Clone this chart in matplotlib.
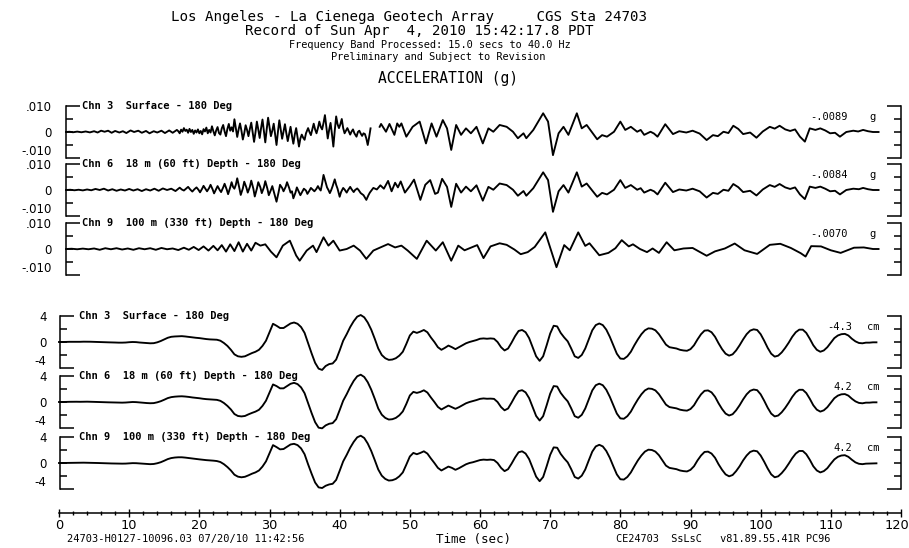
import numpy as np
import matplotlib
matplotlib.use("Agg")
import matplotlib.pyplot as plt
import matplotlib.transforms as mtrans
from matplotlib.ticker import FixedLocator, FixedFormatter, MultipleLocator

# ---------------------------------------------------------------- data --
title_lines = [
    "Los Angeles - La Cienega Geotech Array     CGS Sta 24703",
    "Record of Sun Apr  4, 2010 15:42:17.8 PDT",
    "Frequency Band Processed: 15.0 secs to 40.0 Hz",
    "Preliminary and Subject to Revision",
    "ACCELERATION (g)",
]
footer_left = "24703-H0127-10096.03 07/20/10 11:42:56"
footer_right = "CE24703  SsLsC   v81.89.55.41R PC96"
time_label = "Time (sec)"
time_ticks = [0, 10, 20, 30, 40, 50, 60, 70, 80, 90, 100, 110, 120]

channel_names = [
    "Chn 3  Surface - 180 Deg",
    "Chn 6  18 m (60 ft) Depth - 180 Deg",
    "Chn 9  100 m (330 ft) Depth - 180 Deg",
]

# acceleration, (time s, milli-g) turning points
acc_ch3 = [
    (1.0, 0.0), (1.5, 0.1), (2.0, -0.1), (2.6, 0.15), (3.2, -0.1), (3.8, 0.2), (4.4, -0.15),
    (5.0, 0.3), (5.5, -0.2), (6.0, 0.5), (6.5, 0.1), (7.0, 0.5), (7.5, -0.3), (8.0, 0.4),
    (8.6, -0.2), (9.1, 0.3), (9.6, -0.4), (10.2, 0.6), (10.7, 0.0), (11.3, 0.5), (11.8, -0.3),
    (12.4, 0.4), (12.9, -0.5), (13.5, 0.3), (14.0, -0.2), (14.6, 0.5), (15.1, -0.4), (15.7, 0.6),
    (16.2, -0.3), (16.8, 0.8),
    (17.0, 0.3), (17.2, -0.5), (17.4, 0.9), (17.6, 0.1), (17.8, 1.5), (18.0, 0.4), (18.2, 0.9),
    (18.4, -0.3), (18.6, 1.2), (18.8, 0.0), (19.0, 0.8), (19.2, -0.7), (19.4, 0.6), (19.6, -0.2),
    (19.8, 1.0), (20.0, -0.5), (20.2, 0.4), (20.4, -0.9), (20.6, 1.1), (20.8, 0.2), (21.0, 1.7),
    (21.2, -0.5), (21.4, 0.8), (21.6, -0.2), (21.8, 2.2), (22.0, 0.3), (22.2, -1.3), (22.4, 0.6),
    (22.6, 1.9), (22.8, -0.4), (23.0, -1.0), (23.2, 1.4), (23.4, 2.7), (23.6, 0.2), (23.8, -1.6),
    (24.0, 1.2), (24.2, 3.1), (24.4, 0.5), (24.6, 1.8), (24.8, 0.2), (25.0, 4.9), (25.2, 1.5),
    (25.4, -1.9), (25.6, 1.0), (25.8, 3.3), (26.0, 0.5), (26.2, -2.9), (26.4, -0.5), (26.6, 2.6),
    (26.8, 0.8), (27.0, -1.6), (27.2, 1.2), (27.4, 3.6), (27.6, 0.0), (27.8, -3.8), (28.0, -0.2),
    (28.2, 4.0), (28.4, 1.0), (28.6, -2.3), (28.8, 1.5), (29.0, 4.8), (29.2, 0.5), (29.4, -4.0),
    (29.6, 1.0), (29.8, 5.5), (30.0, 2.0), (30.2, -1.6), (30.4, 0.5), (30.6, 3.2), (30.8, -1.0),
    (31.0, -5.0), (31.2, 0.0), (31.4, 4.5), (31.6, 1.0), (31.8, -2.6), (32.0, 0.2), (32.2, 3.0),
    (32.4, -0.5), (32.6, -3.5), (32.8, -0.8), (33.0, 2.0), (33.2, -1.5), (33.4, -4.5), (33.6, -1.0),
    (33.8, 1.5), (34.0, -2.0), (34.2, -5.6), (34.4, -2.5), (34.6, -1.0), (34.8, -2.2), (35.0, -3.0),
    (35.2, -0.5), (35.5, 1.5), (35.7, 0.0), (35.9, -1.2), (36.1, 1.0), (36.3, 3.2), (36.5, 1.0),
    (36.7, -0.5), (36.9, 1.5), (37.1, 4.0), (37.3, 2.0), (37.5, 1.0), (37.7, 3.5), (37.9, 6.5),
    (38.1, 2.0), (38.3, -2.5), (38.5, 0.8), (38.7, 3.5), (38.9, -0.8), (39.1, -5.6), (39.3, 0.5),
    (39.5, 6.0), (39.7, 3.0), (39.9, 1.5), (40.1, 3.0), (40.3, 5.0), (40.5, 1.5), (40.7, -0.5),
    (40.9, 0.5), (41.1, 1.5), (41.3, 0.2), (41.5, -1.0), (41.7, 0.2), (41.9, 1.0), (42.1, -0.5),
    (42.4, -1.8), (42.6, 0.0), (42.8, 0.5), (43.0, -0.6), (43.2, -1.5), (43.4, -0.5), (43.6, -0.8),
    (43.8, -2.5), (44.0, -5.0), (44.2, -2.0), (44.4, 1.4), (45.0, np.nan),
    (45.7, 2.0), (45.9, 3.1), (46.6, 0.1), (47.1, 3.1), (47.8, -1.1), (48.2, 3.3), (48.5, 2.0),
    (48.8, 3.3), (49.5, -1.8), (50.4, 2.0), (51.4, 4.0), (52.3, -4.4), (53.1, 3.3), (53.8, -1.8),
    (54.7, 4.6), (55.3, 1.4), (55.9, -6.9), (56.6, 2.7), (57.3, -1.1), (58.0, 1.4), (58.7, -0.5),
    (59.5, 2.0), (60.4, -4.4), (61.2, 1.4), (61.9, 0.1), (62.8, 2.7), (63.8, 2.0), (64.7, 0.1),
    (65.4, -2.4), (66.2, -0.5), (66.6, -2.4), (67.6, 0.8), (69.0, 7.2), (69.7, 4.0), (70.4, -8.9),
    (71.2, -0.5), (71.9, 2.0), (72.6, -1.1), (73.8, 7.2), (74.5, 1.4), (75.2, 2.7), (76.7, -2.8),
    (77.4, -1.2), (78.1, -1.8), (79.1, 0.1), (80.0, 4.0), (80.7, 0.8), (81.5, 2.0), (82.4, 0.1),
    (82.9, 0.8), (83.4, -1.1), (84.3, 0.1), (84.8, -0.6), (85.3, -1.8), (86.4, 3.0), (87.5, -0.8),
    (88.4, 0.3), (89.4, -0.2), (90.3, 0.5), (91.3, -0.6), (92.3, -3.1), (93.2, -1.2), (93.9, -1.6),
    (94.7, 0.1), (95.4, -0.4), (96.1, 2.4), (96.8, 1.2), (97.5, -0.8), (98.5, -0.2), (99.4, -2.2),
    (100.3, 0.2), (101.3, 2.0), (102.0, 1.3), (102.7, 2.4), (103.5, 1.0), (104.2, 0.4), (104.9, 1.0),
    (105.6, -1.8), (106.3, -3.7), (107.0, 1.4), (107.8, 0.8), (108.5, 1.4), (109.2, 0.6), (109.9, -0.5),
    (110.6, -0.3), (111.3, -1.8), (112.2, 0.0), (113.2, 0.5), (113.9, 0.2), (114.6, 0.8), (115.3, 0.3),
    (116.0, 0.0), (116.8, 0.0),
]

acc_ch6 = [
    (1.0, 0.0), (1.6, 0.1), (2.2, -0.1), (2.8, 0.1), (3.4, -0.15), (4.0, 0.2), (4.6, -0.1),
    (5.2, 0.4), (5.8, 0.0), (6.4, 0.5), (7.0, -0.2), (7.6, 0.3), (8.2, -0.3), (8.8, 0.2),
    (9.4, -0.2), (10.0, 0.4), (10.6, -0.2), (11.2, 0.3), (11.8, -0.4), (12.4, 0.3), (13.0, -0.2),
    (13.6, 0.5), (14.2, -0.3), (14.8, 0.6), (15.4, 0.0), (16.0, 0.5), (16.6, -0.4),
    (17.2, 0.9), (17.5, 0.2), (17.8, -0.2), (18.1, 0.5), (18.4, 1.2), (18.7, 0.2), (19.0, -0.6),
    (19.3, 0.3), (19.6, 1.0), (19.9, 0.0), (20.1, -0.9), (20.4, 0.5), (20.6, 1.6), (20.9, 0.3),
    (21.1, -0.5), (21.4, 0.8), (21.6, 2.0), (21.9, 0.2), (22.1, -1.3), (22.4, 0.4), (22.6, 1.5),
    (22.9, 0.0), (23.1, -0.8), (23.4, 1.0), (23.6, 2.4), (23.9, 0.2), (24.1, -1.6), (24.4, 1.0),
    (24.6, 3.0), (24.8, 1.2), (25.0, 0.5), (25.2, 2.0), (25.4, 4.5), (25.7, 0.8), (25.9, -1.9),
    (26.2, 0.6), (26.4, 3.2), (26.7, 1.0), (26.9, -1.0), (27.2, 1.2), (27.4, 3.6), (27.7, 0.5),
    (27.9, -2.5), (28.2, 0.5), (28.4, 3.0), (28.7, 1.0), (28.9, -1.2), (29.2, 1.0), (29.4, 3.4),
    (29.7, 0.5), (29.9, -2.0), (30.2, 0.0), (30.4, 1.5), (30.7, -1.5), (31.0, -4.5), (31.3, -0.8),
    (31.5, 2.0), (31.8, 0.8), (32.0, -0.5), (32.3, 1.2), (32.5, 3.0), (32.8, 0.8), (33.0, -1.0),
    (33.2, -0.5), (33.4, -3.2), (33.7, -1.0), (33.9, 1.0), (34.2, -0.8), (34.4, -2.0), (34.7, -0.5),
    (34.9, 0.5), (35.2, -0.2), (35.4, -1.5), (35.7, -0.2), (35.9, 0.8), (36.2, 0.0), (36.4, -0.5),
    (36.7, 0.5), (36.9, 1.5), (37.1, 0.5), (37.3, -0.2), (37.5, 2.5), (37.7, 5.8), (38.0, 3.0),
    (38.2, 1.0), (38.4, 0.0), (38.6, -1.2), (38.8, 0.0), (39.0, 1.5), (39.3, 4.1), (39.5, 2.0),
    (39.7, 0.5), (40.0, -2.6), (40.2, -0.8), (40.5, 0.8), (40.7, 0.2), (41.0, -1.0), (41.2, 0.0),
    (41.5, 1.2), (41.7, 0.3), (42.0, -0.8), (42.2, 0.0), (42.5, 0.6), (42.7, 0.0), (43.0, -1.2),
    (43.4, -2.0), (43.8, -3.8), (44.1, -2.0), (44.3, -1.0), (44.8, 0.8),
    (45.3, 0.2), (45.8, 1.8), (46.3, 0.5), (46.9, 3.5), (47.4, -0.5), (47.9, 2.8), (48.3, 1.0),
    (48.7, 3.3), (49.3, -1.0), (50.0, 1.5), (50.6, 4.0), (51.5, -3.8), (52.2, 2.0), (52.9, 3.8),
    (53.6, -1.5), (54.0, -1.0), (54.6, 4.3), (55.3, 1.2), (55.9, -6.5), (56.6, 2.4), (57.3, -1.0),
    (58.0, 1.3), (58.7, -0.5), (59.5, 1.8), (60.4, -4.1), (61.2, 1.2), (61.9, 0.1), (62.8, 2.5),
    (63.8, 1.9), (64.7, 0.1), (65.4, -2.2), (66.2, -0.4), (66.6, -2.2), (67.6, 0.7), (69.0, 6.8),
    (69.7, 3.8), (70.4, -8.4), (71.2, -0.5), (71.9, 1.9), (72.6, -1.0), (73.8, 6.8), (74.5, 1.3),
    (75.2, 2.5), (76.7, -2.6), (77.4, -1.1), (78.1, -1.7), (79.1, 0.1), (80.0, 3.8), (80.7, 0.8),
    (81.5, 1.9), (82.4, 0.1), (82.9, 0.7), (83.4, -1.0), (84.3, 0.1), (84.8, -0.5), (85.3, -1.7),
    (86.4, 2.8), (87.5, -0.8), (88.4, 0.2), (89.4, -0.2), (90.3, 0.5), (91.3, -0.5), (92.3, -2.9),
    (93.2, -1.1), (93.9, -1.5), (94.7, 0.1), (95.4, -0.3), (96.1, 2.3), (96.8, 1.1), (97.5, -0.8),
    (98.5, -0.3), (99.4, -2.1), (100.3, 0.2), (101.3, 1.9), (102.0, 1.2), (102.7, 2.3), (103.5, 1.0),
    (104.2, 0.4), (104.9, 1.0), (105.6, -1.7), (106.3, -3.5), (107.0, 1.3), (107.8, 0.8), (108.5, 1.3),
    (109.2, 0.5), (109.9, -0.5), (110.6, -0.3), (111.3, -1.7), (112.2, 0.0), (113.2, 0.5), (114.0, 0.3),
    (114.6, 0.8), (115.3, 0.3), (116.0, 0.0), (116.8, 0.0),
]

acc_ch9 = [
    (1.0, 0.0), (1.8, 0.1), (2.6, -0.1), (3.4, 0.15), (4.2, -0.1), (5.0, 0.2), (5.8, -0.3),
    (6.6, 0.3), (7.4, -0.1), (8.2, 0.3), (9.0, -0.2), (9.8, 0.2), (10.6, -0.3), (11.4, 0.3),
    (12.2, -0.1), (13.0, 0.3), (13.8, -0.3), (14.6, 0.4), (15.4, -0.1), (16.2, 0.2), (17.0, -0.4),
    (17.8, 0.5), (18.5, -0.3), (19.2, 0.8), (19.9, -0.4), (20.6, 1.0), (21.3, -0.6), (22.0, 1.2),
    (22.6, -0.5), (23.2, 1.5), (23.8, -1.0), (24.4, 1.8), (25.0, -0.8), (25.6, 2.6), (26.2, -1.0),
    (26.8, 2.0), (27.4, -0.6), (28.0, 2.4), (28.7, 1.3), (29.4, 1.8), (30.2, -1.0), (31.0, -3.2),
    (31.9, 1.3), (32.9, 3.2), (33.8, -2.5), (34.3, -4.5), (35.3, -0.6), (36.2, 1.3), (36.7, -1.2),
    (37.7, 4.5), (38.4, 1.3), (39.1, 3.2), (40.0, -0.6), (41.0, 0.0), (42.0, 1.3), (42.9, -0.6),
    (43.8, -3.8), (44.8, -0.6), (45.8, 0.6), (46.9, 1.9), (47.9, 0.6), (48.8, 1.3), (49.7, -0.6),
    (51.0, -3.8), (52.4, 3.2), (53.7, -0.6), (54.7, 2.6), (55.9, -4.5), (56.9, 1.3), (57.8, -0.5),
    (58.7, 0.5), (59.6, 1.5), (60.5, -3.5), (61.5, 1.0), (62.8, 2.2), (63.8, 1.6), (64.9, -0.2),
    (65.8, -2.0), (66.8, -1.2), (67.8, 0.8), (69.3, 6.4), (70.9, -7.0), (72.0, 1.5), (72.8, -0.5),
    (74.0, 6.4), (75.0, 1.2), (75.6, 2.2), (77.0, -2.4), (78.3, -1.5), (79.3, 0.3), (80.2, 3.4),
    (81.2, 1.0), (81.8, 1.8), (82.8, 0.0), (83.8, -1.2), (84.6, 0.2), (85.5, -1.5), (86.6, 2.6),
    (87.7, -0.5), (89.0, 0.2), (90.3, 0.4), (92.3, -2.6), (93.5, -0.9), (94.9, 0.2), (96.3, 2.1),
    (97.7, -0.5), (99.5, -1.9), (101.3, 1.6), (102.8, 2.0), (104.3, 0.4), (105.7, -1.6), (106.4, -2.9),
    (107.2, 1.1), (108.6, 1.0), (110.0, -0.5), (111.4, -1.5), (113.3, 0.5), (114.7, 0.6), (116.0, 0.0),
    (116.8, 0.0),
]
acc_peaks = ["-.0089", "-.0084", "-.0070"]

# displacement, cm, sampled every 0.5 s from t = 0
disp_ch3 = [
    0, 0, 0.02, 0.03, 0.03, 0.04, 0.03, 0.05, 0.05, 0.04,
    0.02, 0, -0.03, -0.05, -0.05, -0.06, -0.08, -0.1, -0.1, -0.08,
    -0.03, 0, -0.02, -0.08, -0.12, -0.17, -0.2, -0.18, -0.05,
    0.15, 0.4, 0.65, 0.8, 0.85, 0.88, 0.9, 0.85, 0.78, 0.7,
    0.65, 0.6, 0.52, 0.45, 0.4, 0.38, 0.35, 0.2, -0.15, -0.6,
    -1.2, -1.9, -2.2, -2.28, -2.2, -1.95, -1.7, -1.5, -1.2, -0.6, 0.2, 1.5, 2.8,
    2.5, 2.15, 2.15, 2.5, 2.85, 3.0, 2.8, 2.3, 1.4, -0.2, -1.75, -3.2, -4.1,
    -4.3, -3.7, -3.4, -3.3, -2.7, -1.3, 0.2, 1.2, 2.3, 3.2, 3.9, 4.15,
    3.8, 3.0, 1.9, 0.5, -1.0, -2.0, -2.5, -2.75, -2.7, -2.5, -2.1, -1.5, -0.3, 1.0, 1.6, 1.4,
    1.6, 1.85, 1.5, 0.7, 0.0, -0.8, -1.2, -0.9, -0.55, -0.8, -1.1, -0.8, -0.5, -0.2,
    0.0, 0.15, 0.3, 0.5, 0.55, 0.5, 0.55, 0.5, 0.0, -0.8, -1.3, -1.0, -0.1, 0.9,
    1.7, 1.85, 1.5, 0.6, -0.8, -2.2, -2.9, -2.2, -0.5, 1.3, 2.5, 2.4, 1.4, 0.7, 0.1, -1.0,
    -2.2, -2.45, -2.0, -1.0, 0.4, 1.8, 2.6, 2.85, 2.6, 1.9, 0.8, -0.5, -1.8, -2.55, -2.6, -2.2,
    -1.5, -0.5, 0.4, 1.2, 1.8, 2.1,
    2.05, 1.8, 1.2, 0.4, -0.4, -0.8, -0.9, -1.0, -1.2, -1.3, -1.35, -1.1, -0.5, 0.4, 1.2, 1.75,
    1.8, 1.5, 0.8, -0.2, -1.1, -1.8, -2.1, -1.9, -1.3, -0.5, 0.4, 1.2, 1.75, 1.95, 1.85, 1.2,
    0.2, -0.9, -1.8, -2.25,
    -2.1, -1.6, -0.9, -0.1, 0.8, 1.5, 1.9, 1.9, 1.4, 0.5, -0.5, -1.2, -1.5, -1.3, -0.8, -0.1,
    0.6, 1.0, 1.2,
    1.25, 1.0, 0.5, 0.1, -0.15, -0.2, -0.1, -0.1, -0.05, -0.05,
]
disp_ch6 = [
    0, 0, 0.02, 0.03, 0.04, 0.04, 0.03, 0.04, 0.05, 0.04,
    0.02, 0, -0.02, -0.04, -0.05, -0.06, -0.07, -0.09, -0.1, -0.08,
    -0.04, 0, -0.02, -0.07, -0.11, -0.16, -0.19, -0.17, -0.05,
    0.12, 0.35, 0.6, 0.75, 0.82, 0.86, 0.88, 0.84, 0.78, 0.7,
    0.64, 0.58, 0.5, 0.44, 0.4, 0.37, 0.33, 0.18, -0.15, -0.6,
    -1.15, -1.85, -2.15, -2.22, -2.15, -1.9, -1.68, -1.48, -1.2, -0.6, 0.2, 1.45, 2.7,
    2.45, 2.1, 2.1, 2.45, 2.8, 2.95, 2.75, 2.25, 1.35, -0.2, -1.7, -3.1, -3.95,
    -4.05, -3.6, -3.35, -3.25, -2.65, -1.25, 0.2, 1.2, 2.3, 3.25, 3.95, 4.2,
    3.85, 3.05, 1.9, 0.5, -1.0, -1.95, -2.45, -2.7, -2.65, -2.45, -2.05, -1.45, -0.3, 1.0, 1.55, 1.4,
    1.55, 1.8, 1.45, 0.7, 0.0, -0.75, -1.15, -0.85, -0.55, -0.8, -1.05, -0.8, -0.5, -0.2,
    0.0, 0.15, 0.3, 0.48, 0.55, 0.5, 0.52, 0.48, 0.0, -0.78, -1.28, -1.0, -0.1, 0.88,
    1.68, 1.82, 1.48, 0.6, -0.78, -2.15, -2.85, -2.18, -0.5, 1.28, 2.45, 2.38, 1.4, 0.7, 0.1, -0.98,
    -2.18, -2.42, -1.98, -1.0, 0.4, 1.78, 2.58, 2.82, 2.58, 1.88, 0.8, -0.5, -1.78, -2.52, -2.58, -2.18,
    -1.48, -0.5, 0.4, 1.18, 1.78, 2.08,
    2.02, 1.78, 1.2, 0.4, -0.4, -0.78, -0.88, -0.98, -1.18, -1.28, -1.33, -1.08, -0.5, 0.4, 1.18, 1.72,
    1.78, 1.48, 0.8, -0.2, -1.08, -1.78, -2.08, -1.88, -1.28, -0.5, 0.4, 1.18, 1.72, 1.92, 1.82, 1.18,
    0.2, -0.88, -1.78, -2.22,
    -2.08, -1.58, -0.9, -0.1, 0.78, 1.48, 1.88, 1.88, 1.38, 0.5, -0.5, -1.18, -1.48, -1.28, -0.8, -0.1,
    0.58, 0.98, 1.18,
    1.22, 0.98, 0.5, 0.1, -0.14, -0.2, -0.1, -0.1, -0.05, -0.05,
]
disp_ch9 = [
    0, 0, 0.01, 0.02, 0.03, 0.04, 0.04, 0.05, 0.04, 0.03,
    0.01, 0, -0.02, -0.04, -0.06, -0.07, -0.08, -0.1, -0.1, -0.09,
    -0.05, -0.02, -0.03, -0.07, -0.1, -0.15, -0.18, -0.15, -0.04,
    0.12, 0.35, 0.6, 0.76, 0.84, 0.88, 0.88, 0.83, 0.76, 0.68,
    0.62, 0.56, 0.5, 0.44, 0.4, 0.36, 0.3, 0.15, -0.18, -0.62,
    -1.15, -1.8, -2.1, -2.2, -2.12, -1.9, -1.65, -1.45, -1.15, -0.55, 0.25, 1.5, 2.75,
    2.45, 2.1, 2.15, 2.5, 2.85, 2.95, 2.75, 2.25, 1.35, -0.2, -1.65, -3.0, -3.75,
    -3.85, -3.5, -3.3, -3.2, -2.6, -1.2, 0.25, 1.25, 2.35, 3.25, 3.95, 4.2,
    3.85, 3.0, 1.85, 0.45, -1.0, -1.95, -2.45, -2.7, -2.65, -2.45, -2.05, -1.45, -0.25, 1.0, 1.55, 1.35,
    1.55, 1.8, 1.45, 0.7, 0.0, -0.75, -1.15, -0.85, -0.55, -0.75, -1.05, -0.8, -0.5, -0.2,
    0.0, 0.12, 0.28, 0.45, 0.52, 0.48, 0.52, 0.45, 0.0, -0.75, -1.25, -0.95, -0.1, 0.85,
    1.65, 1.8, 1.45, 0.6, -0.75, -2.1, -2.8, -2.15, -0.5, 1.25, 2.4, 2.35, 1.4, 0.7, 0.1, -0.95,
    -2.15, -2.4, -1.95, -1.0, 0.4, 1.75, 2.55, 2.8, 2.55, 1.85, 0.8, -0.5, -1.75, -2.5, -2.55, -2.15,
    -1.45, -0.5, 0.4, 1.15, 1.75, 2.05,
    2.0, 1.75, 1.2, 0.4, -0.4, -0.75, -0.85, -0.95, -1.15, -1.25, -1.3, -1.05, -0.5, 0.4, 1.15, 1.7,
    1.75, 1.45, 0.8, -0.2, -1.05, -1.75, -2.05, -1.85, -1.25, -0.5, 0.4, 1.15, 1.7, 1.9, 1.8, 1.15,
    0.2, -0.85, -1.75, -2.2,
    -2.05, -1.55, -0.9, -0.1, 0.75, 1.45, 1.85, 1.85, 1.35, 0.5, -0.5, -1.15, -1.45, -1.25, -0.8, -0.1,
    0.55, 0.95, 1.15,
    1.2, 0.95, 0.5, 0.1, -0.12, -0.18, -0.1, -0.08, -0.05, -0.05,
]
disp_peaks = ["-4.3", "4.2", "4.2"]

# --------------------------------------------------------------- figure --
W, H = 909, 548
fig = plt.figure(figsize=(W / 100, H / 100), dpi=100)
fig.patch.set_facecolor("white")
plt.rcParams["font.family"] = ["DejaVu Sans Mono"]
NARROW = ["Liberation Sans Narrow", "DejaVu Sans"]

X0, X1 = 59, 901          # pixel span of the 0..120 s time axis


def fig_xy(px, py):
    return px / W, 1 - py / H


def add_px_axes(top, bottom):
    return fig.add_axes([X0 / W, 1 - bottom / H, (X1 - X0) / W, (bottom - top) / H])


def trace_panel(top, bottom, t, v, lim, edge_labels, spine_t, pad, name, name_t,
                peak, peak_t, unit):
    ax = add_px_axes(top, bottom)
    ax.set_xlim(0, 120)
    ax.set_ylim(-lim, lim)
    ax.patch.set_visible(False)
    ax.plot(t, v, color="black", lw=1.35, clip_on=False, solid_joinstyle="round")
    for s in ("top", "bottom"):
        ax.spines[s].set_visible(False)
    ax.spines["left"].set_position(("data", spine_t))
    for s in ("left", "right"):
        ax.spines[s].set_linewidth(1.1)
        ax.spines[s].set_capstyle("projecting")
    ax.xaxis.set_visible(False)
    ax.yaxis.set_major_locator(FixedLocator([-lim, lim]))
    ax.yaxis.set_major_formatter(FixedFormatter(edge_labels))
    ax.yaxis.set_minor_locator(FixedLocator([-lim / 2, 0, lim / 2]))
    ax.yaxis.set_minor_formatter(FixedFormatter(["", "0", ""]))
    ax.tick_params(axis="y", which="both", direction="in", left=True, right=True,
                   labelleft=True, labelright=False, width=1.1, pad=pad,
                   labelsize=8.5, labelfontfamily=NARROW)
    ax.tick_params(axis="y", which="major", length=10)
    ax.tick_params(axis="y", which="minor", length=5)
    # lower edge label sits just above the bracket foot
    ax.yaxis.get_major_ticks()[0].label1.set_verticalalignment("bottom")
    ax.text(name_t, lim, name, ha="left", va="center", fontsize=7.5,
            fontweight="bold")
    ax.text(peak_t, 0.58 * lim, peak, ha="right", va="center", fontsize=7.5)
    ax.text(116.0, 0.58 * lim, unit, ha="center", va="center", fontsize=7.5)
    return ax


acc_rows = [(106, 158), (164, 216), (223, 275)]
disp_rows = [(316, 368), (376, 428), (437, 489)]

for (top, bottom), data, name, peak in zip(acc_rows, [acc_ch3, acc_ch6, acc_ch9],
                                           channel_names, acc_peaks):
    arr = np.array(data, dtype=float)
    trace_panel(top, bottom, arr[:, 0], arr[:, 1] * 1e-3, 0.010, ["-.010", ".010"],
                1.0, 10.5, name, 3.3, peak, 112.4, "g")

for (top, bottom), vals, name, peak in zip(disp_rows, [disp_ch3, disp_ch6, disp_ch9],
                                           channel_names, disp_peaks):
    vals = np.array(vals, dtype=float)
    t = 0.5 * np.arange(len(vals))
    trace_panel(top, bottom, t, vals, 4.0, ["-4", "4"], 0.1, 9.5, name, 2.8,
                peak, 113.0, "cm")

# time axis
axt = fig.add_axes([X0 / W, 1 - 513 / H, (X1 - X0) / W, 0.002])
axt.set_xlim(0, 120)
axt.patch.set_visible(False)
for s in ("top", "left", "right"):
    axt.spines[s].set_visible(False)
axt.spines["bottom"].set_linewidth(1.1)
axt.set_yticks([])
axt.xaxis.set_major_locator(FixedLocator(time_ticks))
axt.xaxis.set_major_formatter(FixedFormatter([str(v) for v in time_ticks]))
axt.xaxis.set_minor_locator(MultipleLocator(2))
axt.tick_params(axis="x", which="both", direction="inout", width=1.0,
                labelsize=9.3, pad=1.0, labelfontfamily=NARROW)
axt.tick_params(axis="x", which="major", length=6)
axt.tick_params(axis="x", which="minor", length=3.5)
# keep the last label inside the page
last = axt.xaxis.get_major_ticks()[-1].label1
last.set_transform(last.get_transform()
                   + mtrans.ScaledTranslation(-4.5 / 100, 0, fig.dpi_scale_trans))

# titles
title_spec = [(409, 16.5, 10.2), (419, 31.5, 10.2), (430, 45.5, 7.4), (438, 57.5, 7.4),
              (448, 79, 10.5)]
for text, (px, py, size) in zip(title_lines, title_spec):
    fig.text(*fig_xy(px, py), text, ha="center", va="center", fontsize=size)

fig.text(*fig_xy(67, 539), footer_left, ha="left", va="center", fontsize=7.5)
fig.text(*fig_xy(473, 539), time_label, ha="center", va="center", fontsize=9.0)
fig.text(*fig_xy(616, 539), footer_right, ha="left", va="center", fontsize=7.4)

fig.savefig("out.png", dpi=100, facecolor="white")
